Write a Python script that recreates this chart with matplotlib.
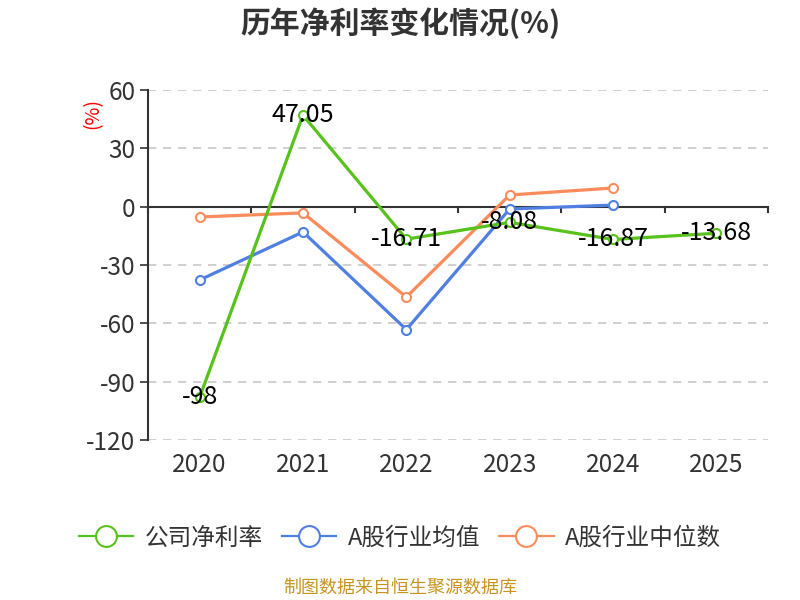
import numpy as np
import matplotlib
matplotlib.use('Agg')
import matplotlib.pyplot as plt
from matplotlib.lines import Line2D

plt.rcParams['font.family'] = ['Noto Sans CJK SC', 'DejaVu Sans']

years = ['2020', '2021', '2022', '2023', '2024', '2025']
company = [-98, 47.05, -16.71, -8.08, -16.87, -13.68]
industry_avg = [-37.7, -13.0, -63.2, -1.2, 0.8]
industry_median = [-5.3, -3.2, -46.5, 6.0, 9.6]

green = '#58c21c'
blue = '#4f80e1'
orange = '#fb8b5b'

fig = plt.figure(figsize=(8, 6), dpi=100)
ax = fig.add_axes([0.185, 0.2667, 0.775, 0.5833])

x = np.arange(len(years))
ax.set_xlim(-0.5, len(years) - 0.5)
ax.set_ylim(-120, 60)
yt = [60, 30, 0, -30, -60, -90, -120]
ax.set_yticks(yt)
ax.set_yticklabels([str(v) for v in yt], fontsize=17.5, color='#333333')
ax.tick_params(axis='y', length=6, width=1.2, color='#333333', pad=3)
for v in yt:
    if v != 0:
        ax.axhline(v, color='#c8c8c8', lw=1.2, ls=(0, (5, 4)), zorder=0)
ax.axhline(0, color='#333333', lw=1.5, zorder=1)

for s in ['top', 'right', 'bottom']:
    ax.spines[s].set_visible(False)
ax.spines['left'].set_color('#333333')
ax.spines['left'].set_linewidth(1.5)

# category boundary ticks on the zero line, year labels under the plot
ax.set_xticks([])
for xb in np.arange(-0.5, len(years), 1.0):
    ax.plot([xb, xb], [0, -2.6], color='#333333', lw=1.5, clip_on=False, zorder=1)
for i, yr in enumerate(years):
    ax.text(i, -126, yr, ha='center', va='top', fontsize=17.5, color='#333333')

mk = dict(marker='o', markersize=6.5, markerfacecolor='white', markeredgewidth=1.5)
ax.plot(x[:len(industry_avg)], industry_avg, color=blue, lw=2.3, zorder=3, markeredgecolor=blue, **mk)
ax.plot(x[:len(industry_median)], industry_median, color=orange, lw=2.3, zorder=3, markeredgecolor=orange, **mk)
ax.plot(x, company, color=green, lw=2.3, zorder=4, markeredgecolor=green, **mk)

for i, v in enumerate(company):
    ax.text(i, v, f'{v:g}', ha='center', va='center', fontsize=18, color='black', zorder=5)

ax.text(-1.03, 48, '(%)', rotation=90, color='red', fontsize=14, ha='center', va='center')

fig.text(0.5, 0.962, '历年净利率变化情况(%)', ha='center', va='center', fontsize=21.5,
         fontweight='bold', color='#333333')

handles = [Line2D([0], [0], color=c, lw=1.6, marker='o', markersize=15,
                  markerfacecolor='white', markeredgewidth=1.5, markeredgecolor=c)
           for c in (green, blue, orange)]
fig.legend(handles, ['公司净利率', 'A股行业均值', 'A股行业中位数'], loc='center',
           bbox_to_anchor=(0.5, 0.103), ncol=3, frameon=False, fontsize=17,
           handlelength=2.3, columnspacing=0.8, handletextpad=0.5, labelcolor='#333333')

fig.text(0.5, 0.02, '制图数据来自恒生聚源数据库', ha='center', va='center', fontsize=13,
         color='#c8941e')

fig.savefig('out.png', dpi=100)
